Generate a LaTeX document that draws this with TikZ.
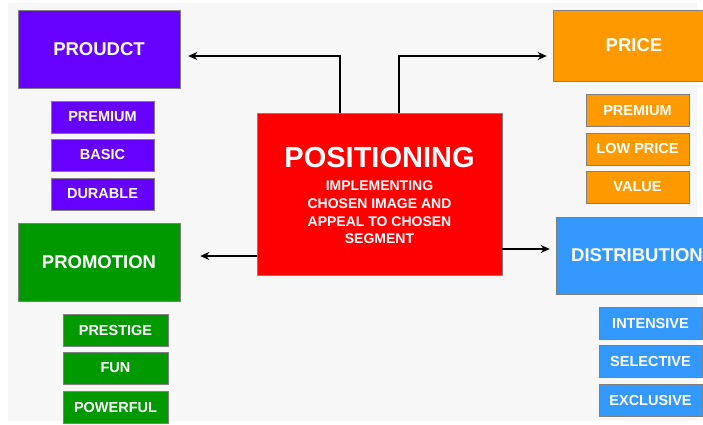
\documentclass[tikz,border=0pt]{standalone}
\usepackage{fontspec}
\setmainfont{Liberation Sans}
\usetikzlibrary{arrows.meta}
\definecolor{prodcol}{HTML}{6600FF}
\definecolor{pricecol}{HTML}{FF9900}
\definecolor{promocol}{HTML}{009900}
\definecolor{distcol}{HTML}{3399FF}
\definecolor{poscol}{HTML}{FF0000}
\definecolor{edgecol}{HTML}{808080}
\definecolor{panel}{HTML}{F7F7F7}
\tikzset{
  box/.style={draw=edgecol, line width=0.6pt, inner sep=0pt, text=white,
    font=\bfseries\fontsize{18.5}{20}\selectfont},
  headbox/.style={box, minimum width=162pt},
  subbox/.style={box, minimum height=32pt, minimum width=103pt,
    font=\bfseries\fontsize{14.5}{16}\selectfont},
  arr/.style={line width=1.8pt, -{Stealth[length=9pt,width=8pt]}},
}
\begin{document}
\begin{tikzpicture}[x=1pt,y=-1pt]
\useasboundingbox (0,0) rectangle (703,424);
\fill[white] (0,0) rectangle (703,424);
\fill[panel] (8,3) rectangle (697,421);

% central box
\node[box, fill=poscol, minimum width=245pt, minimum height=162pt] (pos) at (379.5,194) {};
\node[text=white, font=\bfseries\fontsize{29}{31}\selectfont] (postitle) at (379.5,158) {POSITIONING};
\node[text=white, align=center, font=\bfseries\fontsize{14}{17.7}\selectfont] (postext) at (379.5,212.5)
  {IMPLEMENTING\\CHOSEN IMAGE AND\\APPEAL TO CHOSEN\\SEGMENT};

% product
\node[headbox, fill=prodcol, minimum height=78pt] (prod) at (99,49) {PROUDCT};
\node[subbox, fill=prodcol] (prod1) at (102.5,117) {PREMIUM};
\node[subbox, fill=prodcol] (prod2) at (102.5,155) {BASIC};
\node[subbox, fill=prodcol] (prod3) at (102.5,194) {DURABLE};

% price
\node[headbox, fill=pricecol, minimum height=71pt] (price) at (634,45.5) {PRICE};
\node[subbox, fill=pricecol] (price1) at (637.5,110.5) {PREMIUM};
\node[subbox, fill=pricecol] (price2) at (637.5,149) {LOW PRICE};
\node[subbox, fill=pricecol] (price3) at (637.5,187) {VALUE};

% promotion
\node[headbox, fill=promocol, minimum height=78pt] (promo) at (99,262) {PROMOTION};
\node[subbox, fill=promocol, minimum width=105pt] (promo1) at (115.5,330) {PRESTIGE};
\node[subbox, fill=promocol, minimum width=105pt] (promo2) at (115.5,368) {FUN};
\node[subbox, fill=promocol, minimum width=105pt] (promo3) at (115.5,407) {POWERFUL};

% distribution (box runs past the right edge)
\node[headbox, fill=distcol, minimum height=77pt] (dist) at (637,255.5) {DISTRIBUTION};
\node[subbox, fill=distcol] (dist1) at (650.5,323) {INTENSIVE};
\node[subbox, fill=distcol] (dist2) at (650.5,361.5) {SELECTIVE};
\node[subbox, fill=distcol] (dist3) at (650.5,400.5) {EXCLUSIVE};

% connectors
\draw[arr] ([xshift=-39.5pt]pos.north) |- ([xshift=8pt,yshift=-7pt]prod.east);
\draw[arr] ([xshift=19.5pt]pos.north) |- ([xshift=-6pt,yshift=-10.5pt]price.west);
\coordinate (pl) at ([yshift=-62pt]pos.west);
\draw[arr] (pl) -- ([xshift=20pt]promo.east |- pl);
\coordinate (pr) at ([yshift=-55pt]pos.east);
\draw[arr] (pr) -- ([xshift=-6pt]dist.west |- pr);
\end{tikzpicture}
\end{document}
